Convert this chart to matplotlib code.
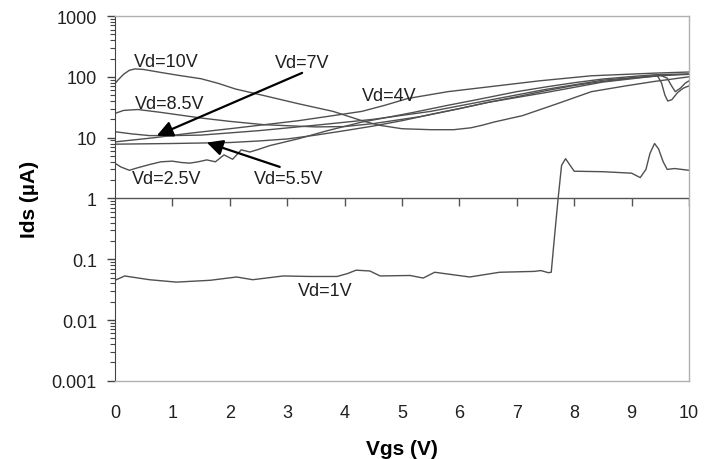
import numpy as np
import matplotlib
matplotlib.use("Agg")
import matplotlib.pyplot as plt
from matplotlib.lines import TICKDOWN

plt.rcParams['font.family'] = ['Liberation Sans', 'DejaVu Sans']

# Ids (uA) vs Vgs (V) for several drain voltages
vgs_10 = [0, 0.05, 0.15, 0.25, 0.35, 0.5, 0.8, 1.1, 1.5, 1.8, 2.1, 2.6, 3.2, 3.8, 4.3, 4.6, 5.0, 5.5,
          5.9, 6.2, 6.4, 6.6, 7.1, 7.7, 8.3, 8.9, 9.4, 10]
ids_10 = [77, 88, 110, 128, 135, 132, 118, 106, 93, 78, 63, 49, 36, 27, 19, 16, 14, 13.5,
          13.5, 14.5, 16, 18, 23, 36, 57, 71, 84, 100]

vgs_85 = [0, 0.15, 0.4, 0.8, 1.5, 2.0, 2.6, 3.5, 4.0, 4.5, 5.3, 6.0, 6.5, 7.5, 8.5, 9.3, 9.45,
          9.52, 9.58, 9.63, 9.7, 9.8, 9.9, 10]
ids_85 = [25, 28, 29, 26, 21, 18.5, 16.3, 15, 15.2, 17, 22, 30, 38, 55, 82, 100, 104,
          80, 50, 40, 42, 55, 65, 71]

vgs_7 = [0, 0.3, 0.6, 1.0, 1.5, 2.5, 3.5, 4.5, 5.5, 6.5, 7.5, 8.5, 9.5, 9.62, 9.7, 9.76, 9.85, 9.93, 10]
ids_7 = [12.5, 11.5, 10.8, 10.8, 11, 13, 16, 20, 27, 41, 62, 88, 106, 95, 70, 57, 65, 78, 86]

vgs_55 = [0, 1, 2, 2.5, 3, 3.5, 4, 4.5, 5, 5.5, 6, 6.5, 7, 7.5, 8, 8.5, 9, 9.5, 10]
ids_55 = [7.8, 8.0, 8.3, 8.8, 9.5, 11, 13, 15.5, 19, 24, 30, 38, 47, 59, 72, 84, 95, 104, 110]

vgs_4 = [0, 0.7, 1.3, 2, 2.6, 3.2, 3.8, 4.3, 4.7, 5.1, 5.8, 6.6, 7.4, 8.3, 9.4, 10]
ids_4 = [8.5, 10, 11.8, 14, 16.3, 19, 23, 27, 34, 44, 57, 70, 86, 104, 115, 120]

vgs_25 = [0, 0.1, 0.25, 0.4, 0.6, 0.8, 1.0, 1.15, 1.3, 1.45, 1.6, 1.75, 1.9, 2.05, 2.2, 2.35, 2.5,
          2.7, 3.2, 3.7, 4.3, 4.8, 5.2, 5.8, 6.3, 7.0, 7.5, 8.0, 8.5, 9.0, 9.4, 10]
ids_25 = [3.8, 3.3, 2.9, 3.2, 3.6, 4.0, 4.1, 3.9, 3.8, 4.0, 4.3, 4.0, 5.2, 4.4, 6.3, 5.8, 6.4,
          7.4, 9.6, 13, 18, 22, 26, 34, 42, 57, 68, 80, 92, 101, 108, 112]

vgs_1 = [0, 0.17, 0.6, 1.07, 1.66, 2.12, 2.4, 2.93, 3.4, 3.87, 4.05, 4.2, 4.44, 4.62, 5.14, 5.37, 5.57, 5.8,
         6.18, 6.7, 7.3, 7.42, 7.55, 7.6, 7.65, 7.72, 7.78, 7.85, 7.92, 8.0, 8.5, 9.0, 9.15, 9.25, 9.32,
         9.4, 9.47, 9.55, 9.62, 9.75, 10]
ids_1 = [0.045, 0.053, 0.046, 0.042, 0.045, 0.051, 0.046, 0.053, 0.052, 0.052, 0.058, 0.066, 0.064, 0.053,
         0.054, 0.049, 0.061, 0.057, 0.051, 0.061, 0.063, 0.065, 0.06, 0.061, 0.2, 1.0, 3.5, 4.5, 3.6, 2.8,
         2.75, 2.6, 2.2, 3.0, 5.5, 8.0, 6.5, 4.0, 3.0, 3.1, 2.9]

curves = [(vgs_10, ids_10), (vgs_85, ids_85), (vgs_7, ids_7), (vgs_55, ids_55),
          (vgs_4, ids_4), (vgs_25, ids_25), (vgs_1, ids_1)]

# curve labels: text, vgs, ids
labels = [("Vd=10V", 0.9, 180), ("Vd=7V", 3.26, 175), ("Vd=8.5V", 0.96, 36),
          ("Vd=2.5V", 0.9, 2.1), ("Vd=5.5V", 3.03, 2.1), ("Vd=4V", 4.77, 49),
          ("Vd=1V", 3.67, 0.03)]

# arrows: (tail vgs, tail ids) -> (head vgs, head ids)
arrows = [((3.26, 116), (0.73, 10.8)), ((2.87, 3.3), (1.6, 8.3))]

xticks = list(range(0, 11))
yticks = [0.001, 0.01, 0.1, 1, 10, 100, 1000]
ytick_labels = ["0.001", "0.01", "0.1", "1", "10", "100", "1000"]

fig = plt.figure(figsize=(7.14, 4.6), dpi=100)
ax = fig.add_axes([0.161, 0.17, 0.804, 0.793])

for x, y in curves:
    ax.plot(x, y, color='#505050', lw=1.0)

for txt, x, y in labels:
    ax.text(x, y, txt, fontsize=13, ha='center', va='center', color='#202020')

for (x0, y0), (x1, y1) in arrows:
    ax.annotate('', xy=(x1, y1), xytext=(x0, y0),
                arrowprops=dict(arrowstyle='-|>', color='black', lw=1.6,
                                mutation_scale=24, shrinkA=0, shrinkB=0))

ax.set_yscale('log')
ax.set_xlim(0, 10)
ax.set_ylim(0.001, 1000)
ax.set_yticks(yticks)
ax.set_yticklabels(ytick_labels)
ax.set_xticks(xticks)

# axis crossing at Ids = 1 with downward tick marks
ax.axhline(1, color='#555555', lw=1.0)
ax.plot(xticks[1:], [1] * len(xticks[1:]), linestyle='none', marker=TICKDOWN,
        markersize=6, color='#555555', mew=1.0)

ax.tick_params(axis='y', which='major', direction='out', length=6, width=1.0,
               labelsize=13, pad=7, color='#444444', labelcolor='#202020')
ax.tick_params(axis='y', which='minor', direction='out', length=3.5, width=0.8, color='#444444')
ax.tick_params(axis='x', length=0, labelsize=13, pad=17, labelcolor='#202020')

ax.spines['left'].set_color('#444444')
for s in ['top', 'right', 'bottom']:
    ax.spines[s].set_color('#b0b0b0')
    ax.spines[s].set_linewidth(1.0)

ax.set_xlabel("Vgs (V)", fontsize=15, fontweight='bold', labelpad=13)
ax.set_ylabel("Ids (\u00b5A)", fontsize=15, fontweight='bold', labelpad=9)

fig.savefig("out.png", dpi=100)
